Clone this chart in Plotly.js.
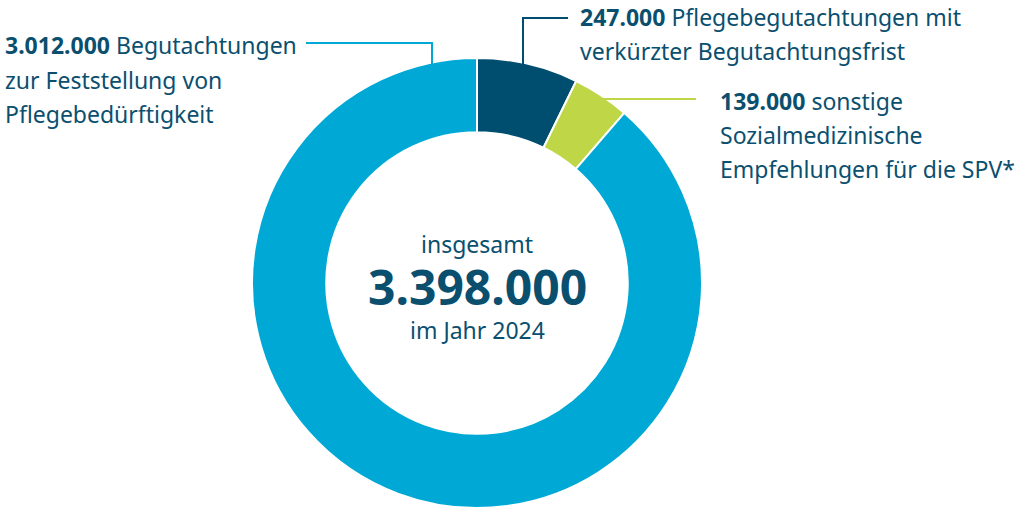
<!DOCTYPE html>
<html><head><meta charset="utf-8">
<script src="https://cdn.plot.ly/plotly-3.0.1.min.js"></script>
<style>html,body{margin:0;padding:0;background:#fff}#chart{width:1029px;height:509px}</style>
</head><body><div id="chart"></div>
<script>
const categories = ["Pflegebegutachtungen mit verkürzter Begutachtungsfrist", "sonstige Sozialmedizinische Empfehlungen für die SPV*", "Begutachtungen zur Feststellung von Pflegebedürftigkeit"];
const values = [247000, 139000, 3012000];
const colors = ["#004e6f", "#bfd647", "#00a9d5"];
const totalLabel = "3.398.000";
const yearLabel = "im Jahr 2024";

const W = 1029, H = 509;
const px = x => x / W, py = y => 1 - y / H;
const txt = "#0b4f6f";
const F = "Noto Sans, sans-serif";

function line(x, y, parts, size) {
  return {xref:"paper", yref:"paper", x:px(x), y:py(y), xanchor:"left", yanchor:"middle",
    text: parts, showarrow:false, font:{family:F, size:size||23, color:txt}, align:"left"};
}
function center(y, t, size, h) {
  const a = {xref:"paper", yref:"paper", x:px(477), y:py(y), xanchor:"center", yanchor:"middle",
    text:t, showarrow:false, font:{family:F, size:size, color:txt}};
  if (h) a.height = h;
  return a;
}
const annotations = [
  line(3, 45, "<b>3.012.000</b> Begutachtungen"),
  line(3, 80, "zur Feststellung von"),
  line(3, 114, "Pflegebedürftigkeit"),
  line(578, 17, "<b>247.000</b> Pflegebegutachtungen mit"),
  line(578, 51, "verkürzter Begutachtungsfrist"),
  line(718, 101, "<b>139.000</b> sonstige"),
  line(718, 135, "Sozialmedizinische"),
  line(718, 169, "Empfehlungen für die SPV*"),
  center(244, "insgesamt", 23),
  center(286, "<b>" + totalLabel + "</b>", 48, 46),
  center(330, yearLabel, 23)
];
function seg(x0,y0,x1,y1,c){return {type:"line",xref:"paper",yref:"paper",x0:px(x0),y0:py(y0),x1:px(x1),y1:py(y1),line:{color:c,width:2}};}
const shapes = [
  seg(306,43,433,43,colors[2]), seg(432,42,432,66,colors[2]),
  seg(522,18,568,18,colors[0]), seg(523,17,523,66,colors[0]),
  seg(592,99,696,99,colors[1])
];
Plotly.newPlot("chart", [{
  type:"pie", labels:categories, values:values, sort:false, direction:"clockwise", rotation:0,
  hole:0.67, textinfo:"none", hoverinfo:"label+value",
  marker:{colors:colors, line:{color:"#ffffff", width:2}},
  domain:{x:[px(252), px(702)], y:[py(508), py(58)]}
}], {
  width:W, height:H, margin:{l:0,r:0,t:0,b:0}, showlegend:false,
  paper_bgcolor:"#fff", annotations:annotations, shapes:shapes
}, {displayModeBar:false, staticPlot:true});
</script></body></html>
